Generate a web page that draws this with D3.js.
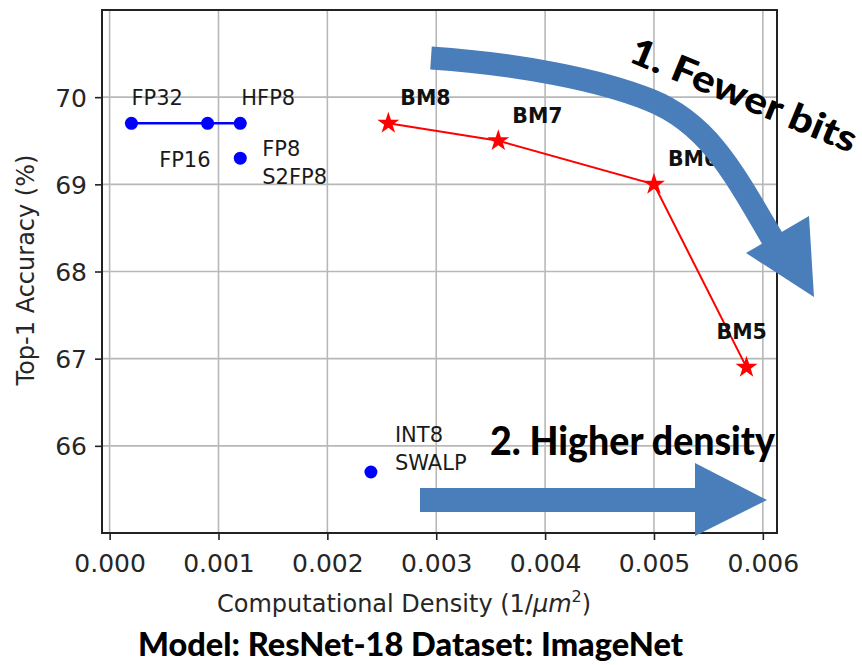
<!DOCTYPE html>
<html>
<head>
<meta charset="utf-8">
<script src="https://cdn.jsdelivr.net/npm/d3@7"></script>
<style>
  html, body { margin: 0; padding: 0; background: #fff; }
  svg { display: block; }
</style>
</head>
<body>
<svg id="chart" width="862" height="665"></svg>
<script>
// ---------------- data ----------------
const xTicks = [0.000, 0.001, 0.002, 0.003, 0.004, 0.005, 0.006];
const yTicks = [66, 67, 68, 69, 70];

const fpNames = ["FP32", "FP16", "HFP8"];
const fpX = [0.0002, 0.0009, 0.0012];
const fpY = [69.7, 69.7, 69.7];

const otherNames = [["FP8", "S2FP8"], ["INT8", "SWALP"]];
const otherX = [0.0012, 0.0024];
const otherY = [69.3, 65.7];

const bmNames = ["BM8", "BM7", "BM6", "BM5"];
const bmX = [0.00256, 0.00357, 0.0050, 0.00585];
const bmY = [69.7, 69.5, 69.0, 66.9];

const xLabel = "Computational Density (1/";
const yLabel = "Top-1 Accuracy (%)";
const note1 = "1. Fewer bits";
const note2 = "2. Higher density";
const title = "Model: ResNet-18 Dataset: ImageNet";

// ---------------- layout ----------------
const L = 102, R = 777, T = 10, B = 533;
const svg = d3.select("#chart");
const x = d3.scaleLinear().domain([-0.00007, 0.00613]).range([L, R]);
const y = d3.scaleLinear().domain([65.0, 71.0]).range([B, T]);

const tickFont = "'DejaVu Sans', sans-serif";
const boldFont = "Lato, 'Open Sans', sans-serif";

// grid
const grid = svg.append("g");
grid.selectAll("line.vx").data(xTicks).join("line")
  .attr("x1", d => x(d)).attr("x2", d => x(d)).attr("y1", T).attr("y2", B)
  .attr("stroke", "#b8b8b8").attr("stroke-width", 1.6);
grid.selectAll("line.hy").data(yTicks).join("line")
  .attr("x1", L).attr("x2", R).attr("y1", d => y(d)).attr("y2", d => y(d))
  .attr("stroke", "#b8b8b8").attr("stroke-width", 1.6);

// axes
const xAxis = svg.append("g").attr("transform", `translate(0,${B})`)
  .call(d3.axisBottom(x).tickValues(xTicks).tickFormat(d3.format(".3f")).tickSize(7).tickPadding(8));
const yAxis = svg.append("g").attr("transform", `translate(${L},0)`)
  .call(d3.axisLeft(y).tickValues(yTicks).tickFormat(d3.format("d")).tickSize(7).tickPadding(8));
[xAxis, yAxis].forEach(a => {
  a.select(".domain").remove();
  a.selectAll(".tick line").attr("stroke", "#222").attr("stroke-width", 1.6);
  a.selectAll(".tick text").attr("font-family", tickFont).attr("font-size", 25).attr("fill", "#262626");
});
xAxis.selectAll(".tick text").attr("dy", null).attr("y", 39);
yAxis.selectAll(".tick text").attr("dy", "0.36em");

// spines
svg.append("rect").attr("x", L).attr("y", T).attr("width", R - L).attr("height", B - T)
  .attr("fill", "none").attr("stroke", "#222").attr("stroke-width", 2);

// axis labels
const xl = svg.append("text").attr("x", 217).attr("y", 612)
  .attr("font-family", tickFont).attr("font-size", 24).attr("fill", "#262626");
xl.append("tspan").text(xLabel);
xl.append("tspan").attr("font-style", "italic").text("μm");
xl.append("tspan").attr("font-size", 16).attr("dy", -10).text("2");
xl.append("tspan").attr("dy", 10).text(")");

svg.append("text").attr("transform", "translate(34,270) rotate(-90)")
  .attr("text-anchor", "middle").attr("font-family", tickFont).attr("font-size", 24)
  .attr("fill", "#262626").text(yLabel);

// FP series
const line = d3.line().x(d => x(d[0])).y(d => y(d[1]));
const fpPts = fpX.map((v, i) => [v, fpY[i]]);
svg.append("path").attr("d", line(fpPts)).attr("fill", "none")
  .attr("stroke", "#0000ff").attr("stroke-width", 2.5);
svg.selectAll("circle.fp").data(fpPts).join("circle")
  .attr("cx", d => x(d[0])).attr("cy", d => y(d[1])).attr("r", 6.5).attr("fill", "#0000ff");
const otherPts = otherX.map((v, i) => [v, otherY[i]]);
svg.selectAll("circle.ot").data(otherPts).join("circle")
  .attr("cx", d => x(d[0])).attr("cy", d => y(d[1])).attr("r", 6.5).attr("fill", "#0000ff");

// FP labels (offsets in px from the point)
const fpLabelOff = [[0, -18, "start"], [3, 44, "end"], [1, -18, "start"]];
fpNames.forEach((n, i) => {
  svg.append("text").attr("x", x(fpX[i]) + fpLabelOff[i][0]).attr("y", y(fpY[i]) + fpLabelOff[i][1])
    .attr("text-anchor", fpLabelOff[i][2]).attr("font-family", tickFont).attr("font-size", 21)
    .attr("fill", "#1a1a1a").text(n);
});
const otherLabelOff = [[22, -2], [24, -30]];
otherNames.forEach((lines, i) => {
  lines.forEach((n, j) => {
    svg.append("text").attr("x", x(otherX[i]) + otherLabelOff[i][0])
      .attr("y", y(otherY[i]) + otherLabelOff[i][1] + j * 28)
      .attr("font-family", tickFont).attr("font-size", 21).attr("fill", "#1a1a1a").text(n);
  });
});

// BM series
const bmPts = bmX.map((v, i) => [v, bmY[i]]);
svg.append("path").attr("d", line(bmPts)).attr("fill", "none")
  .attr("stroke", "#ff0000").attr("stroke-width", 2);
svg.selectAll("path.star").data(bmPts).join("path")
  .attr("transform", d => `translate(${x(d[0])},${y(d[1])})`)
  .attr("d", d3.symbol(d3.symbolStar).size(150)).attr("fill", "#ff0000");
const bmLabelOff = [[12, -18], [14, -18], [14, -18], [-30, -28]];
bmNames.forEach((n, i) => {
  svg.append("text").attr("x", x(bmX[i]) + bmLabelOff[i][0]).attr("y", y(bmY[i]) + bmLabelOff[i][1])
    .attr("font-family", tickFont).attr("font-weight", "bold").attr("font-size", 20.5)
    .attr("fill", "#111").text(n);
});

// ---------------- annotations ----------------
const arrowBlue = "#4a7ebb";
// curved arrow shaft: two smoothly joined cubic segments (pixel annotation)
const shaftPath = d3.path();
shaftPath.moveTo(431, 58);
shaftPath.bezierCurveTo(520, 64, 600, 80, 650, 100);
shaftPath.bezierCurveTo(710, 124, 735, 175, 779, 250);
svg.append("path").attr("d", shaftPath.toString())
  .attr("fill", "none").attr("stroke", arrowBlue).attr("stroke-width", 23);
// curved arrow head
svg.append("path").attr("d", "M746,253 L809,216 L814,297 Z").attr("fill", arrowBlue);

// straight arrow
svg.append("rect").attr("x", 420).attr("y", 488).attr("width", 276).attr("height", 24).attr("fill", arrowBlue);
svg.append("path").attr("d", "M695,463 L767,500 L695,536 Z").attr("fill", arrowBlue);

// notes
svg.append("text").attr("transform", "translate(627,61) rotate(22.4)")
  .attr("font-family", boldFont).attr("font-weight", 900).attr("font-size", 37)
  .attr("fill", "#000").attr("textLength", 242).attr("lengthAdjust", "spacingAndGlyphs").text(note1);
svg.append("text").attr("x", 490).attr("y", 455)
  .attr("font-family", boldFont).attr("font-weight", 900).attr("font-size", 40)
  .attr("fill", "#000").attr("textLength", 285).attr("lengthAdjust", "spacingAndGlyphs").text(note2);

// bottom title
svg.append("text").attr("x", 138).attr("y", 656)
  .attr("font-family", boldFont).attr("font-weight", 900).attr("font-size", 32)
  .attr("fill", "#000").attr("textLength", 545).attr("lengthAdjust", "spacingAndGlyphs").text(title);
</script>
</body>
</html>
